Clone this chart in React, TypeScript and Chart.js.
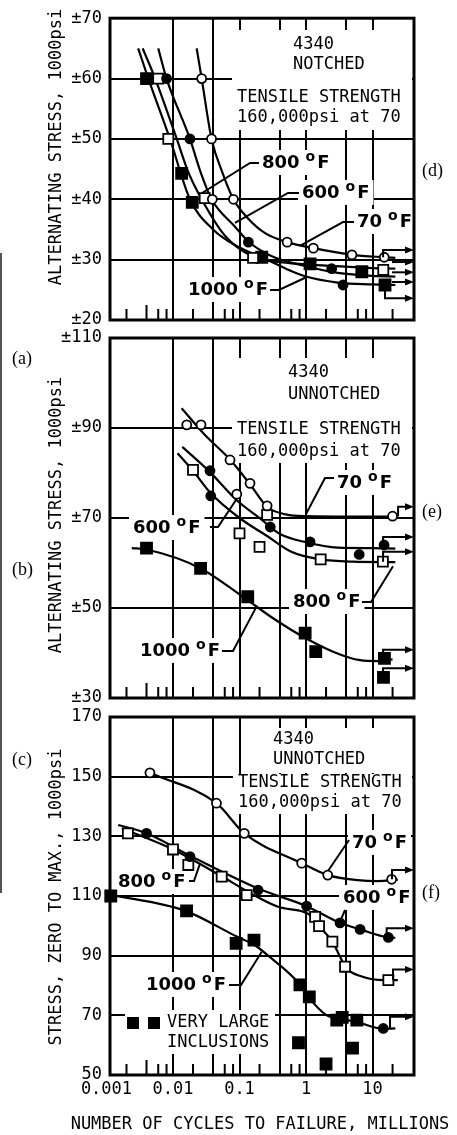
import React, { useEffect, useRef } from "react";
import { Chart, registerables } from "chart.js";

Chart.register(...registerables);

type Pt = [number, number];
type Run = [number, number, number];

// ---------- shared x axis (cycles to failure, millions) ----------
const X_MIN = 0.00113;
const X_MAX = 42;
const xGridValues = [0.01, 0.04, 0.1, 0.4, 1, 4, 10];
const xMinorTicks = [0.002, 0.004, 0.006, 0.008, 0.02, 0.06, 0.08, 0.2, 0.6, 0.8, 2, 6, 8, 20];
const xTickValues = [0.001, 0.01, 0.1, 1, 10];
const xTickLabels = ["0.001", "0.01", "0.1", "1", "10"];

// ---------- (d) 4340 notched ----------
const dOpenCircles: Pt[] = [[0.027, 60], [0.038, 50], [0.039, 40], [0.081, 40], [0.52, 32.9], [1.29, 31.9], [4.9, 30.8], [15, 30.4]];
const dFilledCircles: Pt[] = [[0.008, 60], [0.018, 50], [0.136, 32.9], [2.43, 28.5], [3.6, 25.8]];
const dOpenSquares: Pt[] = [[0.006, 60], [0.0085, 50], [0.03, 40.2], [0.16, 30.3], [14.5, 28.3]];
const dFilledSquares: Pt[] = [[0.004, 60], [0.0135, 44.3], [0.0195, 39.5], [0.216, 30.4], [1.15, 29.3], [6.9, 28], [15.4, 25.8]];
const dCurve70: Pt[] = [[0.0227, 65], [0.027, 60], [0.038, 50], [0.055, 44.5], [0.081, 40], [0.13, 37], [0.25, 34.3], [0.52, 32.9], [1.29, 31.9], [4.9, 30.8], [15, 30.4], [22, 30.3]];
const dCurve600: Pt[] = [[0.006, 65], [0.008, 60], [0.018, 50], [0.026, 44.5], [0.038, 40], [0.085, 35.5], [0.136, 33], [0.3, 30.6], [1, 28.9], [3, 27.8], [10, 27.3], [22, 27.2]];
const dCurve800: Pt[] = [[0.0035, 65], [0.0054, 60], [0.0114, 50], [0.017, 44.5], [0.027, 40], [0.06, 34], [0.16, 30.5], [0.5, 29.5], [2, 29], [10, 28.6], [22, 28.5]];
const dCurve1000: Pt[] = [[0.003, 65], [0.00426, 60], [0.009, 50], [0.018, 40], [0.04, 35], [0.1, 32], [0.216, 30.4], [0.5, 28.5], [1, 27.2], [3, 26.2], [10, 25.9], [22, 25.8]];
const dRunouts: Run[] = [[14.4, 30.4, 31.6], [19.6, 29.6, 29.6], [19.6, 27.9, 27.9], [19.6, 26.3, 26.3], [15.4, 25.8, 23.6]];

// ---------- (e) 4340 unnotched, alternating ----------
const eOpenCircles: Pt[] = [[0.0161, 90.7], [0.0264, 90.7], [0.072, 82.9], [0.091, 75.3], [0.144, 77.7], [0.26, 72.7], [20, 70.4]];
const eFilledCircles: Pt[] = [[0.036, 80.5], [0.037, 74.9], [0.29, 68], [1.15, 64.7], [6.3, 61.9], [14.9, 64]];
const eOpenSquares: Pt[] = [[0.02, 80.7], [0.1, 66.6], [0.2, 63.6], [0.26, 70.7], [1.66, 60.8], [14.3, 60.3]];
const eFilledSquares: Pt[] = [[0.004, 63.3], [0.026, 58.8], [0.133, 52.5], [0.97, 44.4], [1.4, 40.3], [15.1, 38.8], [14.6, 34.6]];
const eCurve70: Pt[] = [[0.0135, 94.4], [0.03, 88.5], [0.072, 83], [0.144, 77.5], [0.26, 72.5], [0.5, 70.8], [1, 70.4], [5, 70.3], [22, 70.3]];
const eCurve600: Pt[] = [[0.0138, 85.8], [0.036, 80.2], [0.09, 74], [0.2, 70], [0.4, 66.5], [1, 64.6], [3, 63.4], [10, 63.3], [22, 63.2]];
const eCurve800: Pt[] = [[0.0117, 84.4], [0.02, 80.5], [0.037, 75.5], [0.1, 70], [0.26, 66], [0.6, 62.5], [1.66, 60.8], [5, 60.3], [22, 60.2]];
const eCurve1000: Pt[] = [[0.0024, 63.3], [0.004, 63], [0.026, 58.8], [0.12, 52.2], [0.3, 48], [0.81, 44], [2.55, 40.3], [6.5, 38.4], [12, 38.2], [20, 38.6]];
const eRunouts: Run[] = [[24.2, 70.4, 72.5], [14.4, 64, 65.8], [14.4, 60.3, 62.5], [14.4, 38.8, 40.7], [14.4, 34.6, 36.6]];

// ---------- (f) 4340 unnotched, zero to max ----------
const fOpenCircles: Pt[] = [[0.0045, 151.3], [0.045, 141.1], [0.118, 131], [0.86, 121], [2.12, 117], [19.4, 115.6]];
const fFilledCircles: Pt[] = [[0.004, 131], [0.018, 123.2], [0.19, 112], [1.02, 106.6], [3.24, 101], [6.5, 98.8], [17.3, 96.1], [14.5, 65.6]];
const fOpenSquares: Pt[] = [[0.0021, 131], [0.01, 125.6], [0.017, 120.4], [0.054, 116.5], [0.128, 110.3], [1.37, 103], [1.57, 99.9], [2.49, 94.7], [3.86, 86.3], [17.3, 81.8]];
const fFilledSquares: Pt[] = [[0.00116, 110], [0.016, 105], [0.089, 94.1], [0.165, 95.2], [0.81, 80.2], [1.12, 76.2], [2.9, 68.4], [3.5, 69.3], [5.8, 68.4]];
const fInclusions: Pt[] = [[0.77, 60.8], [2.0, 53.7], [5.0, 59]];
const fCurve70: Pt[] = [[0.0045, 151.3], [0.045, 141.1], [0.118, 131], [0.86, 121], [2.12, 117], [6, 115.3], [12, 115], [24, 115.5]];
const fCurve600: Pt[] = [[0.0015, 133.8], [0.004, 131], [0.018, 123.5], [0.19, 112.5], [1.02, 106.6], [3.24, 101], [6.5, 98.8], [17.3, 96.1], [22, 96]];
const fCurve800: Pt[] = [[0.0017, 132.7], [0.01, 125.6], [0.054, 116.6], [0.15, 110.8], [0.38, 106.4], [1.37, 102.5], [1.62, 99.7], [2.49, 94.7], [3.24, 89.7], [3.86, 86.3], [6.9, 83], [15, 81.8], [24, 81.8]];
const fCurve1000: Pt[] = [[0.00113, 110.5], [0.015, 105.1], [0.091, 96.4], [0.17, 93.5], [0.27, 90], [0.785, 80.7], [1.08, 76.2], [2.05, 70], [2.9, 69], [5.5, 67.9], [14.5, 65.5], [22, 65.6]];
const fRunouts: Run[] = [[19.6, 115.6, 118.7], [16.3, 96.1, 99.2], [20.3, 81.8, 85.4], [18.3, 65.6, 69.5]];

// ---------- styling ----------
const MONO = '17px "DejaVu Sans Mono"';
const SERIF = '18px "Liberation Serif"';
const BOLD = 'bold 18px "DejaVu Sans"';
const BOLD_SMALL = 'bold 14px "DejaVu Sans"';

interface TextItem { t: string; x: number; y: number }
interface TempItem { n: string; x: number; y: number; lead: Pt[]; to: Pt }
interface PageText { t: string; x: number; y: number; font: string; align: CanvasTextAlign; rot?: boolean }
interface Panel {
  top: number; height: number; chartTop: number; chartBottom: number;
  yMin: number; yMax: number; yStep: number; prefix: string;
  openCircles: Pt[]; filledCircles: Pt[]; openSquares: Pt[]; filledSquares: Pt[];
  curves: Pt[][]; runouts: Run[];
  boxes: [number, number, number, number][];
  texts: TextItem[]; temps: TempItem[]; keySquares: Pt[];
  pageTexts: PageText[]; xLabels: boolean;
}

const TITLE_ALT = "ALTERNATING STRESS, 1000psi";

const panels: Panel[] = [
  {
    top: 0, height: 340, chartTop: 15, chartBottom: 320,
    yMin: 20, yMax: 70, yStep: 10, prefix: "±",
    openCircles: dOpenCircles, filledCircles: dFilledCircles, openSquares: dOpenSquares, filledSquares: dFilledSquares,
    curves: [dCurve70, dCurve600, dCurve800, dCurve1000], runouts: dRunouts,
    boxes: [[232, 30, 180, 100]],
    texts: [
      { t: "4340", x: 293, y: 45 }, { t: "NOTCHED", x: 293, y: 65 },
      { t: "TENSILE STRENGTH", x: 237, y: 98 }, { t: "160,000psi at 70", x: 237, y: 118 },
    ],
    temps: [
      { n: "800", x: 262, y: 163, lead: [[259, 163], [250, 163]], to: [0.027, 41] },
      { n: "600", x: 302, y: 193, lead: [[299, 193], [288, 193]], to: [0.0855, 36.1] },
      { n: "70", x: 357, y: 222, lead: [[354, 222], [343, 222]], to: [0.81, 32.3] },
      { n: "1000", x: 188, y: 290, lead: [[270, 290], [279, 290]], to: [0.97, 27.0] },
    ],
    keySquares: [],
    pageTexts: [
      { t: TITLE_ALT, x: 57, y: 147, font: MONO, align: "center", rot: true },
      { t: "(d)", x: 422, y: 171, font: SERIF, align: "left" },
    ],
    xLabels: false,
  },
  {
    top: 318, height: 400, chartTop: 20, chartBottom: 380,
    yMin: 30, yMax: 110, yStep: 20, prefix: "±",
    openCircles: eOpenCircles, filledCircles: eFilledCircles, openSquares: eOpenSquares, filledSquares: eFilledSquares,
    curves: [eCurve70, eCurve600, eCurve800, eCurve1000], runouts: eRunouts,
    boxes: [[232, 358, 180, 105]],
    texts: [
      { t: "4340", x: 288, y: 373 }, { t: "UNNOTCHED", x: 288, y: 395 },
      { t: "TENSILE STRENGTH", x: 237, y: 430 }, { t: "160,000psi at 70", x: 237, y: 452 },
    ],
    temps: [
      { n: "70", x: 337, y: 483, lead: [[334, 478], [325, 478]], to: [1.0, 70.9] },
      { n: "600", x: 133, y: 528, lead: [[210, 527], [218, 527]], to: [0.0885, 74] },
      { n: "800", x: 293, y: 602, lead: [[362, 602], [371, 602]], to: [20.3, 59.3] },
      { n: "1000", x: 140, y: 651, lead: [[222, 651], [233, 651]], to: [0.18, 50.3] },
    ],
    keySquares: [],
    pageTexts: [
      { t: TITLE_ALT, x: 57, y: 515, font: MONO, align: "center", rot: true },
      { t: "(a)", x: 12, y: 359, font: SERIF, align: "left" },
      { t: "(b)", x: 12, y: 570, font: SERIF, align: "left" },
      { t: "(e)", x: 422, y: 512, font: SERIF, align: "left" },
    ],
    xLabels: false,
  },
  {
    top: 697, height: 438, chartTop: 20, chartBottom: 378,
    yMin: 50, yMax: 170, yStep: 20, prefix: "",
    openCircles: fOpenCircles, filledCircles: fFilledCircles, openSquares: fOpenSquares, filledSquares: [...fFilledSquares, ...fInclusions],
    curves: [fCurve70, fCurve600, fCurve800, fCurve1000], runouts: fRunouts,
    boxes: [[268, 728, 106, 45], [233, 774, 179, 40], [125, 1010, 150, 44]],
    texts: [
      { t: "4340", x: 273, y: 740 }, { t: "UNNOTCHED", x: 273, y: 760 },
      { t: "TENSILE STRENGTH", x: 238, y: 783 }, { t: "160,000psi at 70", x: 238, y: 803 },
      { t: "VERY LARGE", x: 167, y: 1023 }, { t: "INCLUSIONS", x: 167, y: 1043 },
    ],
    temps: [
      { n: "70", x: 352, y: 843, lead: [[349, 840]], to: [2.14, 118.4] },
      { n: "600", x: 343, y: 898, lead: [[345, 910]], to: [3.25, 101.4] },
      { n: "800", x: 118, y: 882, lead: [[189, 881], [194, 881]], to: [0.0256, 121] },
      { n: "1000", x: 146, y: 985, lead: [[229, 985], [241, 985]], to: [0.216, 91.3] },
    ],
    keySquares: [[133, 1023], [154, 1023]],
    pageTexts: [
      { t: "STRESS, ZERO TO MAX., 1000psi", x: 57, y: 897, font: MONO, align: "center", rot: true },
      { t: "(c)", x: 12, y: 760, font: SERIF, align: "left" },
      { t: "(f)", x: 422, y: 893, font: SERIF, align: "left" },
      { t: "NUMBER OF CYCLES TO FAILURE, MILLIONS", x: 260, y: 1125, font: MONO, align: "center" },
    ],
    xLabels: true,
  },
];

function tempLabel(ctx: CanvasRenderingContext2D, n: string, x: number, y: number, draw: boolean): number {
  ctx.font = BOLD;
  if (draw) ctx.fillText(n, x, y);
  let w = ctx.measureText(n).width + 6;
  ctx.font = BOLD_SMALL;
  if (draw) ctx.fillText("o", x + w, y - 6);
  w += ctx.measureText("o").width + 2;
  ctx.font = BOLD;
  if (draw) ctx.fillText("F", x + w, y);
  w += ctx.measureText("F").width;
  return w;
}

const toXY = (arr: Pt[]) => arr.map(([x, y]) => ({ x, y }));

function makeConfig(p: Panel): any {
  const T = (y: number) => y - p.top;
  const overlay = {
    id: "overlay",
    beforeDatasetsDraw(chart: any) {
      const ctx = chart.ctx as CanvasRenderingContext2D;
      const xs = chart.scales.x;
      const ys = chart.scales.y;
      ctx.save();
      ctx.fillStyle = "#fff";
      p.boxes.forEach(([bx, by, bw, bh]) => ctx.fillRect(bx, T(by), bw, bh));
      ctx.textBaseline = "middle";
      ctx.textAlign = "left";
      p.temps.forEach((tl) => {
        const w = tempLabel(ctx, tl.n, 0, 0, false);
        ctx.fillStyle = "#fff";
        ctx.fillRect(tl.x - 4, T(tl.y) - 13, w + 8, 25);
      });
      ctx.fillStyle = "#000";
      ctx.font = MONO;
      p.texts.forEach((t) => ctx.fillText(t.t, t.x, T(t.y)));
      p.temps.forEach((tl) => tempLabel(ctx, tl.n, tl.x, T(tl.y), true));
      ctx.strokeStyle = "#000";
      ctx.lineWidth = 2;
      p.temps.forEach((tl) => {
        ctx.beginPath();
        tl.lead.forEach(([lx, ly], i) => (i === 0 ? ctx.moveTo(lx, T(ly)) : ctx.lineTo(lx, T(ly))));
        ctx.lineTo(xs.getPixelForValue(tl.to[0]), ys.getPixelForValue(tl.to[1]));
        ctx.stroke();
      });
      p.keySquares.forEach(([kx, ky]) => ctx.fillRect(kx - 6, T(ky) - 6, 12, 12));
      ctx.restore();
    },
    afterDatasetsDraw(chart: any) {
      const ctx = chart.ctx as CanvasRenderingContext2D;
      const xs = chart.scales.x;
      const ys = chart.scales.y;
      const a = chart.chartArea;
      ctx.save();
      ctx.strokeStyle = "#000";
      ctx.fillStyle = "#000";
      ctx.lineWidth = 3;
      ctx.strokeRect(a.left, a.top, a.right - a.left, a.bottom - a.top);
      ctx.lineWidth = 2;
      xMinorTicks.forEach((v) => {
        const px = xs.getPixelForValue(v);
        const len = v === 0.004 ? 15 : 11;
        ctx.beginPath();
        ctx.moveTo(px, a.bottom);
        ctx.lineTo(px, a.bottom - len);
        ctx.stroke();
      });
      p.runouts.forEach(([xv, y0, y1]) => {
        const px = xs.getPixelForValue(xv);
        const py0 = ys.getPixelForValue(y0);
        const py1 = ys.getPixelForValue(y1);
        ctx.beginPath();
        ctx.moveTo(px, py0);
        ctx.lineTo(px, py1);
        ctx.lineTo(a.right - 6, py1);
        ctx.stroke();
        ctx.beginPath();
        ctx.moveTo(a.right, py1);
        ctx.lineTo(a.right - 9, py1 - 3.5);
        ctx.lineTo(a.right - 9, py1 + 3.5);
        ctx.closePath();
        ctx.fill();
      });
      ctx.textBaseline = "middle";
      p.pageTexts.forEach((t) => {
        ctx.font = t.font;
        ctx.textAlign = t.align;
        if (t.rot) {
          ctx.save();
          ctx.translate(t.x, T(t.y));
          ctx.rotate(-Math.PI / 2);
          ctx.fillText(t.t, 0, 0);
          ctx.restore();
        } else {
          ctx.fillText(t.t, t.x, T(t.y));
        }
      });
      if (p.xLabels) {
        ctx.font = MONO;
        ctx.textAlign = "center";
        xTickValues.forEach((v, i) => ctx.fillText(xTickLabels[i], xs.getPixelForValue(v), T(1090)));
      }
      ctx.restore();
    },
  };

  const marker = (data: Pt[], style: string, r: number, fill: string) => ({
    data: toXY(data),
    showLine: false,
    pointStyle: style,
    pointRadius: r,
    pointBackgroundColor: fill,
    pointBorderColor: "#000",
    pointBorderWidth: 1.8,
    order: 0,
    clip: 12,
  });

  return {
    type: "line",
    data: {
      datasets: [
        marker(p.openCircles, "circle", 4.5, "#fff"),
        marker(p.filledCircles, "circle", 4.5, "#000"),
        marker(p.openSquares, "rect", 7.1, "#fff"),
        marker(p.filledSquares, "rect", 7.8, "#000"),
        ...p.curves.map((c) => ({
          data: toXY(c),
          borderColor: "#000",
          borderWidth: 2.2,
          pointRadius: 0,
          cubicInterpolationMode: "monotone",
          fill: false,
          order: 1,
        })),
      ],
    },
    options: {
      animation: false,
      responsive: false,
      devicePixelRatio: 1,
      events: [],
      layout: { padding: { left: 0, right: 43, top: p.chartTop, bottom: p.height - p.chartBottom } },
      plugins: { legend: { display: false }, tooltip: { enabled: false } },
      scales: {
        x: {
          type: "logarithmic",
          min: X_MIN,
          max: X_MAX,
          afterBuildTicks: (s: any) => {
            s.ticks = xGridValues.map((v) => ({ value: v }));
          },
          afterFit: (s: any) => {
            s.height = 0;
          },
          ticks: { display: false },
          grid: { color: "#000", lineWidth: 2, drawTicks: false },
          border: { display: false },
        },
        y: {
          type: "linear",
          min: p.yMin,
          max: p.yMax,
          afterFit: (s: any) => {
            s.width = 110;
          },
          ticks: {
            stepSize: p.yStep,
            padding: 8,
            color: "#000",
            font: { family: "DejaVu Sans Mono", size: 17 },
            callback: (v: any) => p.prefix + v,
          },
          grid: { color: "#000", lineWidth: 2, drawTicks: false },
          border: { display: false },
        },
      },
    },
    plugins: [overlay],
  };
}

function PanelChart({ p }: { p: Panel }) {
  const ref = useRef<HTMLCanvasElement>(null);
  useEffect(() => {
    const chart = new Chart(ref.current as HTMLCanvasElement, makeConfig(p));
    return () => chart.destroy();
  }, [p]);
  return (
    <canvas
      ref={ref}
      width={457}
      height={p.height}
      style={{ position: "absolute", left: 0, top: p.top, width: 457, height: p.height }}
    />
  );
}

export default function App() {
  return (
    <div style={{ position: "absolute", left: 0, top: 0, width: 457, height: 1135, background: "#fff", overflow: "hidden" }}>
      <div style={{ position: "absolute", left: 0, top: 253, width: 2, height: 640, background: "#555" }} />
      {panels.map((p, i) => (
        <PanelChart key={i} p={p} />
      ))}
    </div>
  );
}
